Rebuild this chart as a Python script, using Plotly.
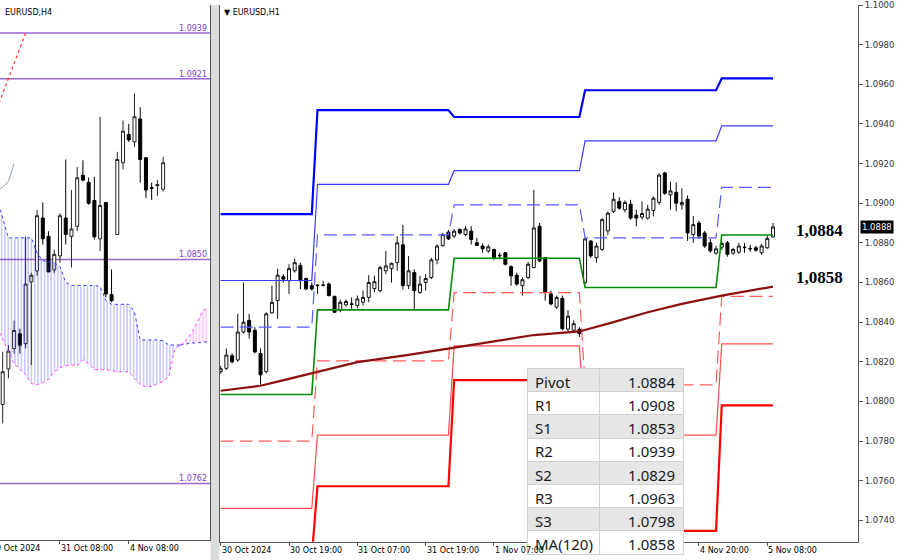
import plotly.graph_objects as go

# ---------------- Left window: EURUSD,H4 ----------------
h4_bars = list(range(29))
h4_open = [1.07930, 1.08070, 1.08150, 1.08208, 1.08169, 1.08412, 1.08455, 1.08663, 1.08591, 1.08459,
           1.08514, 1.08663, 1.08591, 1.08630, 1.08831, 1.08803, 1.08732, 1.08581, 1.08724, 1.08362,
           1.08598, 1.08880, 1.08991, 1.08962, 1.09052, 1.08900, 1.08782, 1.08790, 1.08776]
h4_high = [1.08137, 1.08163, 1.08260, 1.08228, 1.08590, 1.08448, 1.08695, 1.08724, 1.08611, 1.08539,
           1.08682, 1.08893, 1.08773, 1.08864, 1.08890, 1.08822, 1.08825, 1.09061, 1.08724, 1.08461,
           1.08923, 1.09046, 1.09033, 1.09152, 1.09098, 1.08900, 1.08802, 1.08812, 1.08903]
h4_low = [1.07856, 1.08033, 1.08130, 1.08130, 1.08150, 1.08085, 1.08436, 1.08559, 1.08451, 1.08446,
          1.08487, 1.08559, 1.08468, 1.08611, 1.08806, 1.08715, 1.08578, 1.08533, 1.08351, 1.08332,
          1.08598, 1.08854, 1.08962, 1.08942, 1.08802, 1.08741, 1.08734, 1.08750, 1.08767]
h4_close = [1.08059, 1.08140, 1.08221, 1.08163, 1.08403, 1.08438, 1.08672, 1.08581, 1.08451, 1.08520,
            1.08672, 1.08598, 1.08620, 1.08821, 1.08812, 1.08721, 1.08589, 1.08712, 1.08364, 1.08338,
            1.08893, 1.09004, 1.08970, 1.09061, 1.08893, 1.08773, 1.08780, 1.08794, 1.08880]

cloud_bars = list(range(-1, 37))
senkou_a = [1.08741, 1.08663, 1.08585, 1.08585, 1.08585, 1.08585, 1.08585, 1.08526, 1.08495, 1.08491,
            1.08487, 1.08472, 1.08410, 1.08398, 1.08398, 1.08398, 1.08398, 1.08398, 1.08394, 1.08339,
            1.08324, 1.08324, 1.08324, 1.08324, 1.08293, 1.08184, 1.08184, 1.08184, 1.08184, 1.08180,
            1.08164, 1.08164, 1.08164, 1.08168, 1.08172, 1.08172, 1.08176, 1.08176]
senkou_b = [1.08234, 1.08184, 1.08137, 1.08090, 1.08067, 1.08047, 1.08012, 1.08008, 1.08016, 1.08028,
            1.08059, 1.08075, 1.08082, 1.08086, 1.08082, 1.08106, 1.08090, 1.08067, 1.08067, 1.08067,
            1.08063, 1.08059, 1.08059, 1.08059, 1.08032, 1.08008, 1.08001, 1.08001, 1.08012, 1.08020,
            1.08040, 1.08145, 1.08164, 1.08184, 1.08211, 1.08254, 1.08301, 1.08308]
cloud_cross_bar = 31

chikou_bars = [-1, 0, 1, 2]
chikou_vals = [1.08770, 1.08784, 1.08807, 1.08877]
red_line_bars = [-1, 4]
red_line_vals = [1.09092, 1.09390]

h4_levels = [1.0939, 1.0921, 1.0850, 1.0762]
h4_tick_bars = [10, 22]
h4_tick_labels = ["31 Oct 08:00", "4 Nov 08:00"]
h4_first_label = "29 Oct 2024"

# ---------------- Right window: EURUSD,H1 ----------------
h1_bars = list(range(98))
h1_open = [1.0815, 1.08167, 1.0823, 1.08209, 1.0835, 1.08409, 1.08359, 1.08242, 1.0815, 1.08447,
           1.08509, 1.08629, 1.08609, 1.08659, 1.08687, 1.0862, 1.08584, 1.08587, 1.08585, 1.08592,
           1.0853, 1.08459, 1.08487, 1.08492, 1.08484, 1.085, 1.08525, 1.0857, 1.08559, 1.08659,
           1.0867, 1.087, 1.0879, 1.08584, 1.0865, 1.0855, 1.086, 1.08625, 1.08714, 1.08787,
           1.08854, 1.08834, 1.08867, 1.08842, 1.08859, 1.088, 1.08784, 1.08759, 1.08767, 1.08737,
           1.0875, 1.0868, 1.08637, 1.08584, 1.08625, 1.08675, 1.08884, 1.08725, 1.08542, 1.08475,
           1.0852, 1.08365, 1.08359, 1.08364, 1.086, 1.08809, 1.08725, 1.08767, 1.0886, 1.08959,
           1.09009, 1.08967, 1.08995, 1.0894, 1.0893, 1.08925, 1.08963, 1.09004, 1.09153, 1.09042,
           1.09055, 1.08992, 1.0902, 1.08842, 1.089, 1.0885, 1.088, 1.08748, 1.08778, 1.088,
           1.08748, 1.08753, 1.08778, 1.08772, 1.08775, 1.0875, 1.08775, 1.0883]
h1_high = [1.0818, 1.08267, 1.08242, 1.08442, 1.086, 1.08442, 1.08375, 1.08267, 1.0845, 1.08584,
           1.0867, 1.08642, 1.08692, 1.0872, 1.087, 1.08625, 1.086, 1.08592, 1.08609, 1.086,
           1.08534, 1.08514, 1.08514, 1.08525, 1.08534, 1.08559, 1.08637, 1.08634, 1.08684, 1.08759,
           1.087, 1.08834, 1.0889, 1.08734, 1.08667, 1.08634, 1.08642, 1.08725, 1.08792, 1.0885,
           1.08864, 1.0887, 1.08874, 1.08884, 1.08884, 1.08825, 1.08797, 1.08792, 1.0877, 1.0875,
           1.08754, 1.08687, 1.0865, 1.08625, 1.08704, 1.09067, 1.089, 1.08725, 1.08559, 1.08534,
           1.08534, 1.0846, 1.08409, 1.08375, 1.08825, 1.08814, 1.088, 1.08925, 1.08959, 1.09054,
           1.0903, 1.09014, 1.09017, 1.08967, 1.09009, 1.08992, 1.09034, 1.0915, 1.09159, 1.09109,
           1.09105, 1.09075, 1.0904, 1.08935, 1.0891, 1.0886, 1.0882, 1.08785, 1.08808, 1.0881,
           1.08775, 1.088, 1.088, 1.0879, 1.08785, 1.08795, 1.08835, 1.089]
h1_low = [1.0814, 1.08159, 1.08192, 1.082, 1.08342, 1.08317, 1.08242, 1.08084, 1.08142, 1.08442,
          1.08417, 1.086, 1.08542, 1.0865, 1.08567, 1.08564, 1.08559, 1.08542, 1.0858, 1.0853,
          1.08447, 1.0845, 1.0848, 1.08467, 1.0847, 1.08484, 1.085, 1.0855, 1.0855, 1.08642,
          1.086, 1.08659, 1.08565, 1.08567, 1.08467, 1.08542, 1.08559, 1.08617, 1.08692, 1.0878,
          1.08814, 1.08825, 1.08842, 1.08834, 1.08792, 1.08784, 1.0875, 1.0875, 1.08714, 1.08717,
          1.08687, 1.08584, 1.08584, 1.08534, 1.08617, 1.08675, 1.08704, 1.08509, 1.08484, 1.08467,
          1.08359, 1.08355, 1.0835, 1.08325, 1.08592, 1.08725, 1.087, 1.08759, 1.0884, 1.0895,
          1.08967, 1.08954, 1.08917, 1.08884, 1.08917, 1.08917, 1.08934, 1.08992, 1.09042, 1.08967,
          1.0896, 1.08967, 1.0881, 1.088, 1.0882, 1.08775, 1.0875, 1.0874, 1.08765, 1.0873,
          1.0874, 1.08745, 1.0875, 1.08755, 1.08755, 1.0874, 1.0877, 1.08825]
h1_close = [1.08165, 1.08234, 1.082, 1.0835, 1.084, 1.0835, 1.0825, 1.08134, 1.08442, 1.085,
            1.08637, 1.08617, 1.0867, 1.087, 1.08609, 1.08567, 1.08567, 1.08585, 1.08587, 1.08534,
            1.0845, 1.085, 1.08504, 1.0849, 1.08517, 1.08525, 1.086, 1.08604, 1.08675, 1.08684,
            1.08697, 1.088, 1.08585, 1.08659, 1.08559, 1.08592, 1.0862, 1.08714, 1.08784, 1.08842,
            1.0882, 1.08859, 1.0885, 1.0887, 1.08817, 1.08787, 1.0877, 1.0878, 1.08725, 1.08735,
            1.08692, 1.08634, 1.08592, 1.08614, 1.08692, 1.08875, 1.08709, 1.0855, 1.08492, 1.08525,
            1.08367, 1.0843, 1.08392, 1.08342, 1.0882, 1.08734, 1.08784, 1.08917, 1.0895, 1.0902,
            1.08975, 1.09004, 1.08925, 1.08925, 1.08948, 1.0897, 1.09025, 1.09142, 1.0905, 1.09062,
            1.09, 1.09004, 1.0885, 1.08892, 1.08834, 1.08784, 1.0876, 1.0877, 1.08797, 1.08742,
            1.08767, 1.08784, 1.08776, 1.0877, 1.08763, 1.08784, 1.08823, 1.0888]

# daily pivot levels (day starts at these bar indices)
day_start = [0, 17, 41, 64, 88]
piv_R3 = [1.08945, 1.0947, 1.09435, 1.0957, 1.0963]
piv_R2 = [1.0861, 1.09095, 1.09164, 1.09315, 1.0939]
piv_R1 = [1.08375, 1.0884, 1.08992, 1.08825, 1.0908]
piv_PP = [1.08035, 1.08462, 1.08722, 1.08575, 1.0884]
piv_S1 = [1.0780, 1.08205, 1.08549, 1.08084, 1.0853]
piv_S2 = [1.0746, 1.0783, 1.0828, 1.0783, 1.0829]
piv_S3 = [1.0722, 1.07572, 1.08107, 1.07347, 1.0798]

ma_bars = [0, 7, 10, 16, 24, 33, 40, 48, 55, 60, 63, 69, 75, 81, 88, 97]
ma_vals = [1.08054, 1.08079, 1.081, 1.08143, 1.08198, 1.08235, 1.08265, 1.08303, 1.08335, 1.08344,
           1.08353, 1.084, 1.0845, 1.08492, 1.08534, 1.08579]

h1_tick_bars = [0, 12, 24, 36, 48, 60, 72, 84, 96]
h1_label_bars = [0, 12, 24, 36, 48, 84, 96]
h1_tick_labels = ["30 Oct 2024", "30 Oct 19:00", "31 Oct 07:00", "31 Oct 19:00", "1 Nov 07:00",
                  "4 Nov 20:00", "5 Nov 08:00"]
h1_price_ticks = [1.074, 1.076, 1.078, 1.080, 1.082, 1.084, 1.086, 1.088, 1.090, 1.092, 1.094, 1.096, 1.098, 1.100]

table_labels = ["Pivot", "R1", "S1", "R2", "S2", "R3", "S3", "MA(120)"]

# ---------------- build ----------------
FONT = "DejaVu Sans"
fig = go.Figure()


def expand(levels):
    out = []
    for k in h1_bars:
        d = max(j for j, s in enumerate(day_start) if s <= k)
        out.append(levels[d])
    return out


# Ichimoku cloud (left)
n1 = cloud_bars.index(cloud_cross_bar) + 1
fig.add_trace(go.Scatter(x=cloud_bars[:n1], y=senkou_b[:n1], mode="lines",
                         line=dict(color="#ff44ff", width=1, dash="dot"), hoverinfo="skip",
                         xaxis="x", yaxis="y"))
fig.add_trace(go.Scatter(x=cloud_bars[:n1], y=senkou_a[:n1], mode="lines",
                         line=dict(color="#3c3cff", width=1, dash="dot"), fill="tonexty",
                         fillcolor="rgba(0,0,0,0)",
                         fillpattern=dict(shape="|", fgcolor="rgba(50,50,255,0.85)", bgcolor="rgba(0,0,0,0)",
                                          size=3.3, solidity=0.3),
                         hoverinfo="skip", xaxis="x", yaxis="y"))
fig.add_trace(go.Scatter(x=cloud_bars[n1 - 1:], y=senkou_a[n1 - 1:], mode="lines",
                         line=dict(color="#3c3cff", width=1, dash="dot"), hoverinfo="skip",
                         xaxis="x", yaxis="y"))
fig.add_trace(go.Scatter(x=cloud_bars[n1 - 1:], y=senkou_b[n1 - 1:], mode="lines",
                         line=dict(color="#ff44ff", width=1, dash="dot"), fill="tonexty",
                         fillcolor="rgba(0,0,0,0)",
                         fillpattern=dict(shape="|", fgcolor="rgba(255,50,255,0.85)", bgcolor="rgba(0,0,0,0)",
                                          size=3.3, solidity=0.3),
                         hoverinfo="skip", xaxis="x", yaxis="y"))
fig.add_trace(go.Scatter(x=chikou_bars, y=chikou_vals, mode="lines", line=dict(color="#8fa0b0", width=1),
                         hoverinfo="skip", xaxis="x", yaxis="y"))
fig.add_trace(go.Scatter(x=red_line_bars, y=red_line_vals, mode="lines",
                         line=dict(color="#ff3030", width=1.2, dash="dot"), hoverinfo="skip",
                         xaxis="x", yaxis="y"))

fig.add_trace(go.Candlestick(x=h4_bars, open=h4_open, high=h4_high, low=h4_low, close=h4_close,
                             xaxis="x", yaxis="y", whiskerwidth=0, hoverinfo="skip",
                             increasing=dict(line=dict(color="#222", width=1), fillcolor="#ffffff"),
                             decreasing=dict(line=dict(color="#000", width=1), fillcolor="#000000")))

# Pivot lines (right)
piv_styles = [
    (piv_S3, "#ff0000", 2.2, "solid"),
    (piv_S2, "#ff4d4d", 1.2, "solid"),
    (piv_S1, "#ff5c5c", 1.2, "13px,6px"),
    (piv_R3, "#0000ff", 2.2, "solid"),
    (piv_R2, "#3a3aff", 1.2, "solid"),
    (piv_R1, "#5a5aff", 1.2, "13px,6px"),
    (piv_PP, "#0a8a0a", 1.6, "solid"),
]
for lv, col, w, dash in piv_styles:
    fig.add_trace(go.Scatter(x=h1_bars, y=expand(lv), mode="lines", line=dict(color=col, width=w, dash=dash),
                             hoverinfo="skip", xaxis="x2", yaxis="y2"))

fig.add_trace(go.Scatter(x=ma_bars, y=ma_vals, mode="lines", line=dict(color="#8b1010", width=2.2),
                         hoverinfo="skip", xaxis="x2", yaxis="y2"))

fig.add_trace(go.Candlestick(x=h1_bars, open=h1_open, high=h1_high, low=h1_low, close=h1_close,
                             xaxis="x2", yaxis="y2", whiskerwidth=0, hoverinfo="skip",
                             increasing=dict(line=dict(color="#111", width=1), fillcolor="#ffffff"),
                             decreasing=dict(line=dict(color="#000", width=1), fillcolor="#000000")))

# Table
last = [piv_PP[-1], piv_R1[-1], piv_S1[-1], piv_R2[-1], piv_S2[-1], piv_R3[-1], piv_S3[-1], ma_vals[-1]]
table_values = [f"{v:.4f}" for v in last]
row_cols = ["#ffffff" if i % 2 == 0 else "#e6e6e6" for i in range(7)]
fig.add_trace(go.Table(
    domain=dict(x=[527 / 900, 684 / 900], y=[0, (560 - 366.8) / 560]),
    columnwidth=[73, 84],
    header=dict(values=[table_labels[0], table_values[0]], height=23.2, align=["left", "right"],
                fill=dict(color="#e6e6e6"), line=dict(color="#d0d0d0", width=1),
                font=dict(family="Noto Sans", size=15, color="#1a1a1a")),
    cells=dict(values=[table_labels[1:], table_values[1:]], height=23.2, align=["left", "right"],
               fill=dict(color=[row_cols, row_cols]), line=dict(color="#d0d0d0", width=1),
               font=dict(family="Noto Sans", size=15, color="#1a1a1a")),
))

shapes = []
annotations = []
# left window level lines and labels
for v in h4_levels:
    shapes.append(dict(type="line", xref="x domain", yref="y", x0=0, x1=1, y0=v, y1=v,
                       line=dict(color="#9966d0", width=1.4), layer="below"))
    annotations.append(dict(xref="x domain", yref="y", x=1, y=v, xanchor="right", yanchor="bottom",
                            xshift=-1, yshift=-2, showarrow=False, text=f"{v:.4f}",
                            font=dict(family=FONT, size=8, color="#7a3fbf")))
# frame between the two windows
shapes.append(dict(type="rect", xref="paper", yref="paper", x0=210.5 / 900, x1=219.5 / 900, y0=0, y1=1,
                   fillcolor="#dcdcdc", line=dict(width=0), layer="below"))

# titles
annotations.append(dict(xref="paper", yref="paper", x=3 / 900, y=1, xanchor="left", yanchor="top", yshift=-1,
                        showarrow=False, text="EURUSD,H4", font=dict(family=FONT, size=8, color="#000")))
annotations.append(dict(xref="paper", yref="paper", x=222 / 900, y=1, xanchor="left", yanchor="top", yshift=-1,
                        showarrow=False, text="▼ EURUSD,H1", font=dict(family=FONT, size=8, color="#000")))

# x labels
annotations.append(dict(xref="x", yref="y domain", x=-0.45, y=0, xanchor="left", yanchor="top", xshift=-11,
                        yshift=-2, showarrow=False, text=h4_first_label,
                        font=dict(family=FONT, size=8, color="#000")))
for b, lab in zip(h4_tick_bars, h4_tick_labels):
    annotations.append(dict(xref="x", yref="y domain", x=b, y=0, xanchor="left", yanchor="top", xshift=-1,
                            yshift=-2, showarrow=False, text=lab, font=dict(family=FONT, size=8, color="#000")))
for b, lab in zip(h1_label_bars, h1_tick_labels):
    annotations.append(dict(xref="x2", yref="y2 domain", x=b, y=0, xanchor="left", yanchor="top", xshift=-1,
                            yshift=-2, showarrow=False, text=lab, font=dict(family=FONT, size=8, color="#000")))

# big value labels
annotations.append(dict(xref="x2", yref="y2", x=h1_bars[-1], y=piv_PP[-1], xanchor="left", yanchor="middle",
                        xshift=21, yshift=4, showarrow=False,
                        text="<b>" + f"{piv_PP[-1]:.4f}".replace(".", ",") + "</b>",
                        font=dict(family="Liberation Serif", size=17, color="#000")))
annotations.append(dict(xref="x2", yref="y2", x=h1_bars[-1], y=ma_vals[-1], xanchor="left", yanchor="middle",
                        xshift=21, yshift=9, showarrow=False,
                        text="<b>" + f"{ma_vals[-1]:.4f}".replace(".", ",") + "</b>",
                        font=dict(family="Liberation Serif", size=17, color="#000")))
# current price tag
annotations.append(dict(xref="x2 domain", yref="y2", x=1, y=h1_close[-1], xanchor="left", yanchor="middle",
                        xshift=2, showarrow=False, text=f"{h1_close[-1]:.4f}", bgcolor="#000", borderpad=1,
                        font=dict(family=FONT, size=8.5, color="#fff")))

fig.update_layout(
    width=900, height=560, margin=dict(l=0, r=0, t=0, b=0),
    paper_bgcolor="white", plot_bgcolor="rgba(0,0,0,0)", showlegend=False,
    boxgap=0.3, boxgroupgap=0.25,
    xaxis=dict(domain=[0, 210 / 900], range=[-0.47, 36.18], anchor="y", showgrid=False, zeroline=False,
               showline=True, linecolor="#555", linewidth=1, ticks="outside", ticklen=3, tickcolor="#555",
               tickvals=h4_tick_bars, showticklabels=False, rangeslider=dict(visible=False)),
    yaxis=dict(domain=[20 / 560, 1], range=[1.07397, 1.09500], anchor="x", side="right", showgrid=False,
               zeroline=False, showline=True, linecolor="#555", showticklabels=False, ticks=""),
    xaxis2=dict(domain=[220 / 900, 858 / 900], range=[-0.12, 111.93], anchor="y2", showgrid=False,
                zeroline=False, showline=True, linecolor="#555", linewidth=1, ticks="outside", ticklen=3,
                tickcolor="#555", tickvals=h1_tick_bars, showticklabels=False, rangeslider=dict(visible=False)),
    yaxis2=dict(domain=[18.3 / 560, 1], range=[1.072915, 1.1], anchor="x2", side="right", showgrid=False,
                zeroline=False, showline=True, mirror=True, linecolor="#555", linewidth=1, ticks="outside",
                ticklen=4, tickcolor="#555", tickvals=h1_price_ticks, tickformat=".4f",
                ticklabeloverflow="allow",
                tickfont=dict(family=FONT, size=8.5, color="#333")),
    shapes=shapes, annotations=annotations,
)

fig.write_html("out.html", config={"displayModeBar": False},
               post_script="document.body.style.margin='0px';document.body.style.overflow='hidden';")
